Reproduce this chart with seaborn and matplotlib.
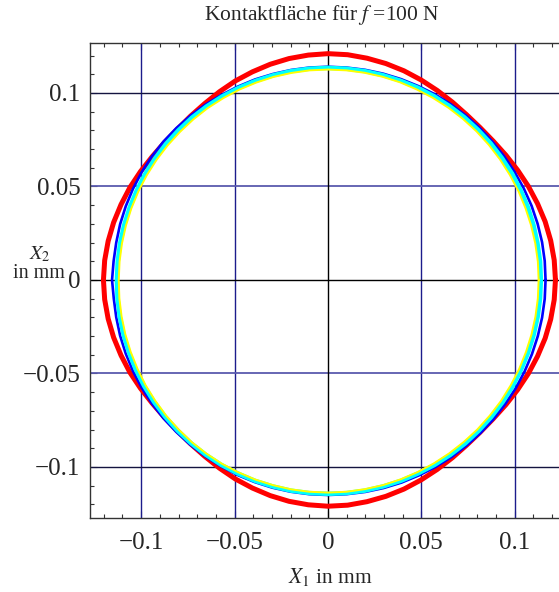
import numpy as np
import pandas as pd
import matplotlib
matplotlib.use("Agg")
import matplotlib.pyplot as plt
from matplotlib.ticker import MultipleLocator, FixedLocator
import seaborn as sns

# Contact-area boundaries: radius (mm) sampled every 5 degrees
angles_deg = list(range(0, 360, 5))
r_red = [0.1218, 0.1216, 0.1211, 0.1204, 0.1194, 0.1184, 0.1173, 0.1163, 0.1155,
         0.1152, 0.1154, 0.1161, 0.1170, 0.1180, 0.1190, 0.1198, 0.1204, 0.1209,
         0.1210, 0.1207, 0.1202, 0.1194, 0.1184, 0.1174, 0.1162, 0.1151, 0.1144,
         0.1140, 0.1143, 0.1149, 0.1159, 0.1170, 0.1179, 0.1188, 0.1195, 0.1200,
         0.1202, 0.1200, 0.1195, 0.1188, 0.1179, 0.1170, 0.1159, 0.1149, 0.1143,
         0.1140, 0.1144, 0.1151, 0.1162, 0.1174, 0.1184, 0.1194, 0.1202, 0.1207,
         0.1210, 0.1209, 0.1204, 0.1198, 0.1190, 0.1180, 0.1170, 0.1161, 0.1154,
         0.1152, 0.1155, 0.1163, 0.1173, 0.1184, 0.1194, 0.1204, 0.1211, 0.1216]
r_blue = [0.1165, 0.1165, 0.1164, 0.1162, 0.1160, 0.1157, 0.1154, 0.1152, 0.1150,
          0.1149, 0.1148, 0.1147, 0.1146, 0.1144, 0.1143, 0.1142, 0.1141, 0.1140,
          0.1140, 0.1140, 0.1140, 0.1140, 0.1141, 0.1141, 0.1142, 0.1144, 0.1146,
          0.1148, 0.1150, 0.1151, 0.1152, 0.1152, 0.1152, 0.1152, 0.1151, 0.1152,
          0.1156, 0.1151, 0.1151, 0.1152, 0.1152, 0.1152, 0.1152, 0.1151, 0.1150,
          0.1149, 0.1149, 0.1149, 0.1149, 0.1150, 0.1150, 0.1150, 0.1150, 0.1150,
          0.1150, 0.1150, 0.1151, 0.1152, 0.1153, 0.1153, 0.1154, 0.1155, 0.1155,
          0.1156, 0.1157, 0.1158, 0.1160, 0.1161, 0.1162, 0.1163, 0.1164, 0.1165]
r_cyan = [0.1140, 0.1140, 0.1139, 0.1139, 0.1139, 0.1138, 0.1138, 0.1137, 0.1137,
          0.1136, 0.1136, 0.1135, 0.1135, 0.1135, 0.1134, 0.1134, 0.1134, 0.1134,
          0.1134, 0.1134, 0.1134, 0.1133, 0.1133, 0.1133, 0.1133, 0.1133, 0.1133,
          0.1132, 0.1132, 0.1131, 0.1131, 0.1130, 0.1130, 0.1130, 0.1130, 0.1130,
          0.1130, 0.1131, 0.1132, 0.1133, 0.1134, 0.1135, 0.1136, 0.1137, 0.1138,
          0.1139, 0.1140, 0.1141, 0.1142, 0.1142, 0.1143, 0.1143, 0.1144, 0.1144,
          0.1144, 0.1144, 0.1144, 0.1143, 0.1143, 0.1142, 0.1142, 0.1142, 0.1142,
          0.1141, 0.1141, 0.1141, 0.1141, 0.1140, 0.1140, 0.1140, 0.1140, 0.1140]
r_yellow = [0.1128, 0.1128, 0.1127, 0.1126, 0.1125, 0.1125, 0.1124, 0.1124, 0.1124,
            0.1124, 0.1124, 0.1124, 0.1124, 0.1124, 0.1125, 0.1125, 0.1125, 0.1125,
            0.1125, 0.1125, 0.1124, 0.1124, 0.1123, 0.1123, 0.1122, 0.1122, 0.1121,
            0.1120, 0.1120, 0.1120, 0.1120, 0.1120, 0.1120, 0.1120, 0.1120, 0.1120,
            0.1120, 0.1121, 0.1122, 0.1123, 0.1124, 0.1125, 0.1127, 0.1128, 0.1130,
            0.1131, 0.1133, 0.1134, 0.1135, 0.1135, 0.1136, 0.1136, 0.1137, 0.1137,
            0.1137, 0.1137, 0.1136, 0.1136, 0.1135, 0.1134, 0.1133, 0.1132, 0.1131,
            0.1131, 0.1130, 0.1130, 0.1129, 0.1129, 0.1128, 0.1128, 0.1128, 0.1128]

tick_values = [-0.1, -0.05, 0.0, 0.05, 0.1]
tick_labels = ["\u22120.1", "\u22120.05", "0", "0.05", "0.1"]

sns.set_style("white")
plt.rcParams["font.family"] = ["Liberation Serif", "DejaVu Serif"]
plt.rcParams["mathtext.fontset"] = "stix"


def outline(radii, name):
    th = np.deg2rad(np.array(angles_deg + [angles_deg[0]], dtype=float))
    r = np.array(list(radii) + [radii[0]])
    return pd.DataFrame({"x": r * np.cos(th), "y": r * np.sin(th), "curve": name})


fig = plt.figure(figsize=(5.59, 5.92), dpi=100)
ax = fig.add_axes([90 / 559, 74 / 592, 469 / 559, 475 / 592])

xlim = (-0.1274, 0.1237)
ylim = (-0.1273, 0.1267)

# grid lines
for v in (-0.1, -0.05, 0.05, 0.1):
    ax.axvline(v, color="#1c1c8c", lw=1.0, zorder=1)
for v in (-0.1, 0.1):
    ax.axhline(v, color="#141440", lw=1.0, zorder=1)
for v in (-0.05, 0.05):
    ax.axhline(v, color="#5a5aae", lw=1.3, zorder=1)
ax.axvline(0, color="black", lw=1.0, zorder=1)
ax.axhline(0, color="black", lw=1.0, zorder=1)

styles = [("red", r_red, "#ff0000", 3.6),
          ("blue", r_blue, "#0000ff", 1.9),
          ("cyan", r_cyan, "#00ffff", 3.2),
          ("yellow", r_yellow, "#ffff00", 1.4)]
for name, radii, color, lw in styles:
    sns.lineplot(data=outline(radii, name), x="x", y="y", sort=False,
                 estimator=None, color=color, lw=lw, ax=ax, zorder=3,
                 legend=False)

ax.set_xlim(*xlim)
ax.set_ylim(*ylim)
ax.set_xlabel("")
ax.set_ylabel("")

ax.xaxis.set_major_locator(FixedLocator(tick_values))
ax.yaxis.set_major_locator(FixedLocator(tick_values))
ax.set_xticklabels(tick_labels)
ax.set_yticklabels(tick_labels)
ax.xaxis.set_minor_locator(MultipleLocator(0.01))
ax.yaxis.set_minor_locator(MultipleLocator(0.01))
ax.tick_params(which="both", direction="in", top=True, right=False,
               bottom=True, left=True, color="#333333", width=0.8)
ax.tick_params(which="major", length=5, labelsize=18)
ax.tick_params(axis="x", which="major", pad=10)
ax.tick_params(axis="y", which="major", pad=7)
ax.tick_params(which="minor", length=3)

for side in ("left", "top", "bottom"):
    ax.spines[side].set_color("#333333")
    ax.spines[side].set_linewidth(1.0)
ax.spines["right"].set_visible(False)

fig.text(322 / 559, 1 - 15 / 592, "Kontaktfläche für $\\mathit{f}$ =100 N",
         ha="center", va="center", fontsize=15.5)
fig.text(330 / 559, 1 - 577 / 592, "$\\mathit{X}_1$ in mm",
         ha="center", va="center", fontsize=15.5)
fig.text(40 / 559, 1 - 254 / 592, "$\\mathit{X}_2$",
         ha="center", va="center", fontsize=14.5)
fig.text(39 / 559, 1 - 274 / 592, "in mm",
         ha="center", va="center", fontsize=14.5)

fig.savefig("out.png", dpi=100)
